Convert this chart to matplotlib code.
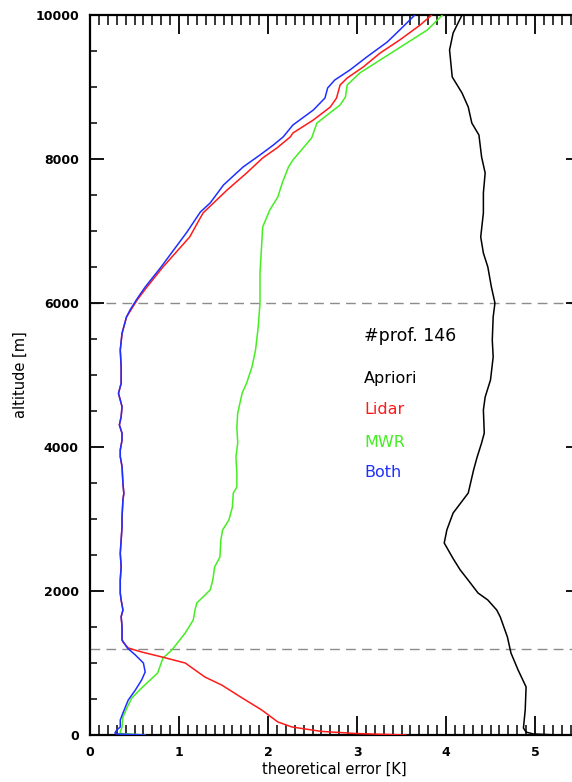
import matplotlib
matplotlib.use("Agg")
import matplotlib.pyplot as plt
from matplotlib.ticker import MultipleLocator

# ---------------- data ----------------
apriori_alt = [0, 15, 40, 97, 347, 667, 903, 1139, 1361, 1639, 1736, 1875, 1972, 2150, 2292,
               2450, 2667, 2850, 3083, 3361, 3681, 3861, 4056, 4194, 4514, 4694, 4931, 5250,
               5486, 5806, 6000, 6222, 6500, 6694, 6917, 7250, 7528, 7806, 8028, 8333, 8500,
               8722, 8917, 9139, 9514, 9750, 10000]
apriori_err = [5.25, 4.98, 4.90, 4.87, 4.89, 4.90, 4.81, 4.73, 4.69, 4.61, 4.57, 4.47, 4.36,
               4.25, 4.16, 4.08, 3.98, 4.01, 4.08, 4.25, 4.31, 4.35, 4.40, 4.43, 4.42, 4.44,
               4.50, 4.53, 4.52, 4.53, 4.55, 4.51, 4.47, 4.42, 4.39, 4.42, 4.42, 4.44, 4.40,
               4.37, 4.29, 4.25, 4.18, 4.07, 4.04, 4.08, 4.18]

both_alt = [0, 15, 28, 69, 111, 208, 306, 486, 625, 764, 875, 1000, 1111, 1208, 1319, 1505,
            1643, 1736, 1875, 1968, 2153, 2338, 2523, 2708, 2894, 3032, 3264, 3356, 3495,
            3727, 3866, 3958, 4097, 4190, 4306, 4421, 4560, 4653, 4745, 4884, 5116, 5347,
            5579, 5806, 5903, 6042, 6222, 6486, 6736, 6986, 7264, 7389, 7639, 7889, 8056,
            8194, 8306, 8472, 8681, 8847, 8986, 9097, 9236, 9417, 9625, 9792, 10000]
both_err = [0.62, 0.29, 0.28, 0.30, 0.34, 0.34, 0.37, 0.43, 0.51, 0.58, 0.62, 0.60, 0.51,
            0.42, 0.36, 0.36, 0.35, 0.37, 0.35, 0.34, 0.34, 0.35, 0.34, 0.35, 0.36, 0.36,
            0.37, 0.38, 0.37, 0.36, 0.34, 0.34, 0.36, 0.36, 0.33, 0.35, 0.36, 0.34, 0.32,
            0.35, 0.35, 0.34, 0.36, 0.41, 0.45, 0.52, 0.62, 0.79, 0.94, 1.09, 1.24, 1.35,
            1.50, 1.72, 1.91, 2.06, 2.17, 2.28, 2.51, 2.64, 2.67, 2.75, 2.92, 3.11, 3.34,
            3.48, 3.65]

lidar_alt = [0, 20, 50, 111, 181, 347, 514, 694, 806, 1000, 1083, 1153, 1208, 1292, 1319,
             1505, 1643, 1736, 1875, 1968, 2153, 2338, 2523, 2708, 2894, 3032, 3264, 3356,
             3495, 3727, 3866, 3958, 4097, 4190, 4306, 4421, 4560, 4653, 4745, 4884, 5116,
             5347, 5579, 5806, 5903, 6042, 6222, 6500, 6917, 7250, 7569, 7806, 8014, 8153,
             8306, 8361, 8542, 8722, 8847, 9028, 9125, 9278, 9472, 9653, 9861, 10000]
lidar_err = [3.55, 3.0, 2.6, 2.27, 2.11, 1.93, 1.71, 1.48, 1.29, 1.07, 0.81, 0.58, 0.43,
             0.37, 0.36, 0.36, 0.35, 0.37, 0.35, 0.34, 0.34, 0.35, 0.34, 0.35, 0.36, 0.36,
             0.37, 0.38, 0.37, 0.36, 0.34, 0.34, 0.36, 0.36, 0.33, 0.35, 0.36, 0.34, 0.32,
             0.35, 0.35, 0.34, 0.36, 0.41, 0.46, 0.53, 0.64, 0.82, 1.12, 1.27, 1.54, 1.76,
             1.94, 2.10, 2.25, 2.28, 2.51, 2.70, 2.77, 2.81, 2.89, 3.07, 3.26, 3.48, 3.71,
             3.84]

mwr_alt = [0, 20, 42, 111, 250, 389, 514, 653, 792, 861, 1069, 1181, 1417, 1597, 1736,
           1833, 1917, 2014, 2153, 2333, 2472, 2708, 2847, 2986, 3167, 3361, 3444, 3639,
           3861, 4056, 4278, 4472, 4750, 4889, 5111, 5347, 5667, 6000, 6417, 6833, 7056,
           7292, 7472, 7667, 7889, 7986, 8292, 8500, 8750, 8861, 9028, 9194, 9375, 9611,
           9792, 10000]
mwr_err = [0.62, 0.34, 0.34, 0.36, 0.37, 0.42, 0.47, 0.58, 0.70, 0.76, 0.82, 0.92, 1.07,
           1.16, 1.18, 1.20, 1.27, 1.35, 1.38, 1.40, 1.46, 1.47, 1.49, 1.56, 1.60, 1.61,
           1.65, 1.65, 1.64, 1.66, 1.65, 1.66, 1.71, 1.76, 1.82, 1.86, 1.89, 1.91, 1.91,
           1.93, 1.94, 2.02, 2.11, 2.16, 2.23, 2.28, 2.49, 2.55, 2.81, 2.87, 2.89, 3.03,
           3.26, 3.56, 3.79, 3.96]

dashed_levels = [6000, 1200]
x_ticks = [0, 1, 2, 3, 4, 5]
y_ticks = [0, 2000, 4000, 6000, 8000, 10000]
n_profiles = 146
legend_labels = ["Apriori", "Lidar", "MWR", "Both"]

# ---------------- figure ----------------
W, H = 572, 782
fig = plt.figure(figsize=(W / 100, H / 100), dpi=100)
x0, x1 = 90, 579.5
y_top, y_bot = 15, 735
ax = fig.add_axes([x0 / W, (H - y_bot) / H, (x1 - x0) / W, (y_bot - y_top) / H])

colors = {"Apriori": "black", "Lidar": "#ff1a1a", "MWR": "#44ee22", "Both": "#1f2fff"}

for lev in dashed_levels:
    ax.axhline(lev, color="#8c8c8c", lw=1.0, dashes=(7, 4.5), zorder=1)

ax.plot(apriori_err, apriori_alt, color=colors["Apriori"], lw=1.1, zorder=3)
ax.plot(mwr_err, mwr_alt, color=colors["MWR"], lw=1.1, zorder=3)
ax.plot(lidar_err, lidar_alt, color=colors["Lidar"], lw=1.1, zorder=3)
ax.plot(both_err, both_alt, color=colors["Both"], lw=1.1, zorder=4)

ax.set_xlim(0, 5.5)
ax.set_ylim(0, 10000)
ax.set_xticks(x_ticks)
ax.set_yticks(y_ticks)
ax.xaxis.set_minor_locator(MultipleLocator(0.1))
ax.yaxis.set_minor_locator(MultipleLocator(500))
ax.tick_params(axis="x", which="major", direction="in", length=14, width=1.3,
               top=True, bottom=True, pad=8)
ax.tick_params(axis="x", which="minor", direction="in", length=7, width=1.1,
               top=True, bottom=True)
ax.tick_params(axis="y", which="major", direction="in", length=10, width=1.3,
               left=True, right=True, pad=8)
ax.tick_params(axis="y", which="minor", direction="in", length=5, width=1.1,
               left=True, right=True)
for lab in ax.get_xticklabels() + ax.get_yticklabels():
    lab.set_fontweight("bold")
    lab.set_fontsize(9)
for sp in ax.spines.values():
    sp.set_linewidth(1.6)

ax.set_xlabel("theoretical error [K]", fontsize=10.5, labelpad=2)
ax.set_ylabel("altitude [m]", fontsize=10.5, labelpad=5)

tx = 3.08
ax.text(tx, 5542, f"#prof. {n_profiles}", fontsize=12.5, color="black", va="center", ha="left")
label_y = [4958, 4514, 4069, 3639]
for name, yy in zip(legend_labels, label_y):
    ax.text(tx, yy, name, fontsize=11.5, color=colors[name], va="center", ha="left")

fig.savefig("out.png", dpi=100)
